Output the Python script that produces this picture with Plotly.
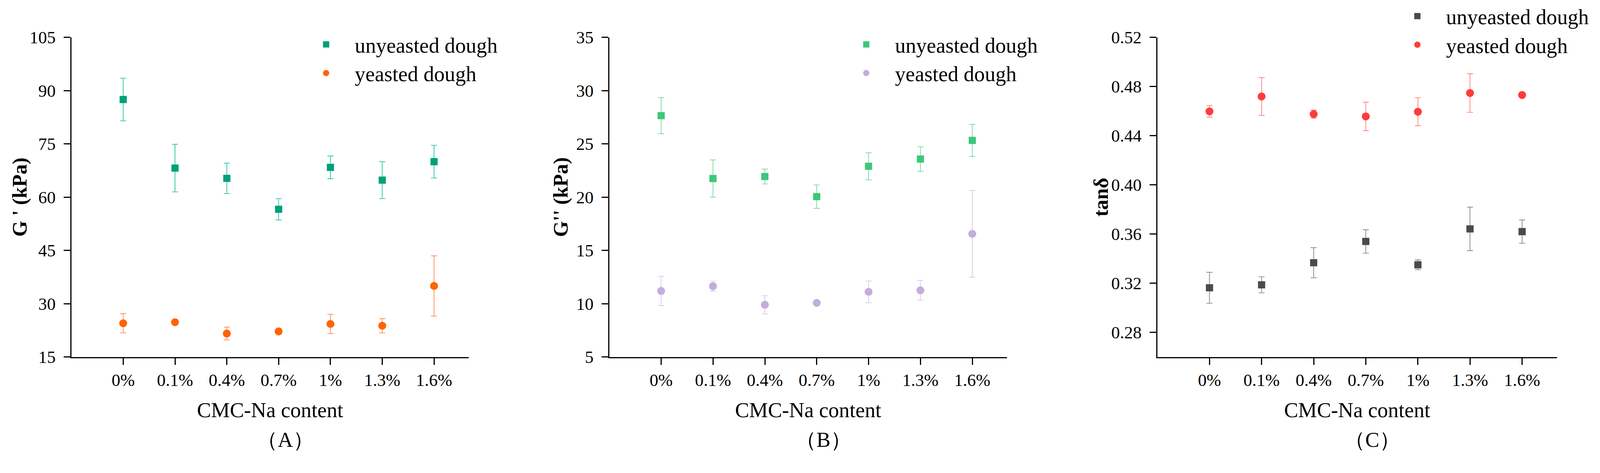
import plotly.graph_objects as go

# ---------------- data ----------------
categories = ["0%", "0.1%", "0.4%", "0.7%", "1%", "1.3%", "1.6%"]

a_unyeasted = [87.5, 68.2, 65.3, 56.6, 68.4, 64.8, 70.0]
a_unyeasted_err = [6.0, 6.7, 4.3, 3.0, 3.2, 5.2, 4.6]
a_yeasted = [24.5, 24.8, 21.6, 22.2, 24.3, 23.8, 35.0]
a_yeasted_err = [2.7, 0.4, 1.8, 0.3, 2.7, 2.0, 8.5]

b_unyeasted = [27.65, 21.75, 21.94, 20.05, 22.90, 23.58, 25.33]
b_unyeasted_err = [1.70, 1.75, 0.70, 1.10, 1.27, 1.15, 1.50]
b_yeasted = [11.2, 11.65, 9.9, 10.08, 11.12, 11.26, 16.56]
b_yeasted_err = [1.37, 0.47, 0.85, 0.15, 1.02, 0.93, 4.07]

c_unyeasted = [0.3163, 0.3187, 0.3367, 0.3540, 0.3350, 0.3642, 0.3620]
c_unyeasted_err = [0.0126, 0.0065, 0.0123, 0.0095, 0.0040, 0.0177, 0.0095]
c_yeasted = [0.4598, 0.4719, 0.4576, 0.4557, 0.4595, 0.4747, 0.4731]
c_yeasted_err = [0.0047, 0.0154, 0.0033, 0.0116, 0.0114, 0.0157, 0.0010]

series_names = ["unyeasted dough", "yeasted dough"]
panel_labels = ["（A）", "（B）", "（C）"]
y_titles = ["<b>G ' (kPa)</b>", "<b>G'' (kPa)</b>", "<b>tanδ</b>"]
x_title = "CMC-Na content"
y_ranges = [[15, 105], [5, 35], [0.26, 0.52]]
y_ticks = [[15, 30, 45, 60, 75, 90, 105], [5, 10, 15, 20, 25, 30, 35],
           [0.28, 0.32, 0.36, 0.40, 0.44, 0.48, 0.52]]
y_tickformats = ["d", "d", ".2f"]

# ---------------- styling ----------------
W, H = 4222, 1212
FONT = "Liberation Serif, Times New Roman, serif"
marker_colors = [("#00A07A", "#FF6400"), ("#3CC878", "#C3ADDB"), ("#4A4A4A", "#FF3B3B")]
err_colors = [("#30C8A8", "#FF915A"), ("#7EDCA4", "#D9CDEB"), ("#8C8C8C", "#FF8585")]

# the photographed page appears slightly magnified and offset by the page margin;
# target positions below are given in picture pixels and converted to figure pixels
K = 1212 / 1172
OFF = 8


def px_x(p):
    return (p / K - OFF) / W


def px_y(p):
    return 1 - (p / K - OFF) / H


def sz(s):
    return s / K


x_px = [(189, 1241), (1613, 2666), (3064, 4122)]
top_px, bot_px = 99, 946
y_title_x_px = [52, 1484, 2914]
label_y_px = 1165
legend_right_px = [1323, 2753, 4212]
legend_row1_px = [119, 119, 44]

data = [
    (a_unyeasted, a_unyeasted_err, a_yeasted, a_yeasted_err),
    (b_unyeasted, b_unyeasted_err, b_yeasted, b_yeasted_err),
    (c_unyeasted, c_unyeasted_err, c_yeasted, c_yeasted_err),
]

fig = go.Figure()
legend_keys = ["legend", "legend2", "legend3"]

for i, (u, ue, y, ye) in enumerate(data):
    xa = "x" if i == 0 else f"x{i+1}"
    ya = "y" if i == 0 else f"y{i+1}"
    for j, (vals, errs, sym, size) in enumerate([(u, ue, "square", 19), (y, ye, "circle", 21)]):
        fig.add_trace(go.Scatter(
            x=categories, y=vals, mode="markers", name=series_names[j],
            xaxis=xa, yaxis=ya, legend=legend_keys[i], legendgroup=f"p{i}s{j}",
            marker=dict(symbol=sym, size=sz(size), color=marker_colors[i][j], line=dict(width=0)),
            error_y=dict(type="data", array=errs, visible=True, color=err_colors[i][j],
                         thickness=sz(2), width=sz(8)),
        ))

layout = dict(
    width=W, height=H, margin=dict(l=0, r=0, t=0, b=0, autoexpand=False),
    paper_bgcolor="white", plot_bgcolor="white",
    font=dict(family=FONT, color="black", size=sz(46)),
    annotations=[],
)

for i in range(3):
    xk = "xaxis" if i == 0 else f"xaxis{i+1}"
    yk = "yaxis" if i == 0 else f"yaxis{i+1}"
    l, r = x_px[i]
    layout[xk] = dict(
        domain=[px_x(l), px_x(r)], anchor="y" if i == 0 else f"y{i+1}",
        type="category", categoryorder="array", categoryarray=categories,
        range=[-1, 6.67], showline=True, linecolor="black", linewidth=sz(3),
        ticks="outside", ticklen=sz(18), tickwidth=sz(3), tickcolor="black",
        showgrid=False, zeroline=False, automargin=False,
        tickfont=dict(family=FONT, size=sz(46), color="black"),
        title=dict(text=x_title, font=dict(family=FONT, size=sz(56), color="black"),
                   standoff=sz(35)),
    )
    layout[yk] = dict(
        domain=[px_y(bot_px), px_y(top_px)], anchor="x" if i == 0 else f"x{i+1}",
        range=y_ranges[i], tickvals=y_ticks[i], tickformat=y_tickformats[i],
        showline=True, linecolor="black", linewidth=sz(3),
        ticks="outside", ticklen=sz(17), tickwidth=sz(3), tickcolor="black",
        ticklabelstandoff=int(round(sz(12))),
        showgrid=False, zeroline=False, automargin=False,
        tickfont=dict(family=FONT, size=sz(46), color="black"),
    )
    layout["annotations"].append(dict(
        text=y_titles[i], xref="paper", yref="paper",
        x=px_x(y_title_x_px[i]), y=px_y((top_px + bot_px) / 2),
        xanchor="center", yanchor="middle", textangle=-90, showarrow=False,
        font=dict(family=FONT, size=sz(54), color="black"),
    ))
    layout["annotations"].append(dict(
        text=panel_labels[i], xref="paper", yref="paper",
        x=px_x((l + r) / 2 + 40), y=px_y(label_y_px), xanchor="center", yanchor="middle",
        showarrow=False, font=dict(family=FONT, size=sz(56), color="black"),
    ))

for i in range(3):
    top_fig = legend_row1_px[i] / K - OFF - sz(44.5)
    layout[legend_keys[i]] = dict(
        x=px_x(legend_right_px[i]), y=1 - top_fig / H, xanchor="right", yanchor="top",
        bgcolor="rgba(0,0,0,0)", borderwidth=0, itemwidth=int(round(sz(142))),
        tracegroupgap=0, font=dict(family=FONT, size=sz(56), color="black"),
        itemsizing="trace",
    )

fig.update_layout(**layout)
fig.write_html("out.html")
